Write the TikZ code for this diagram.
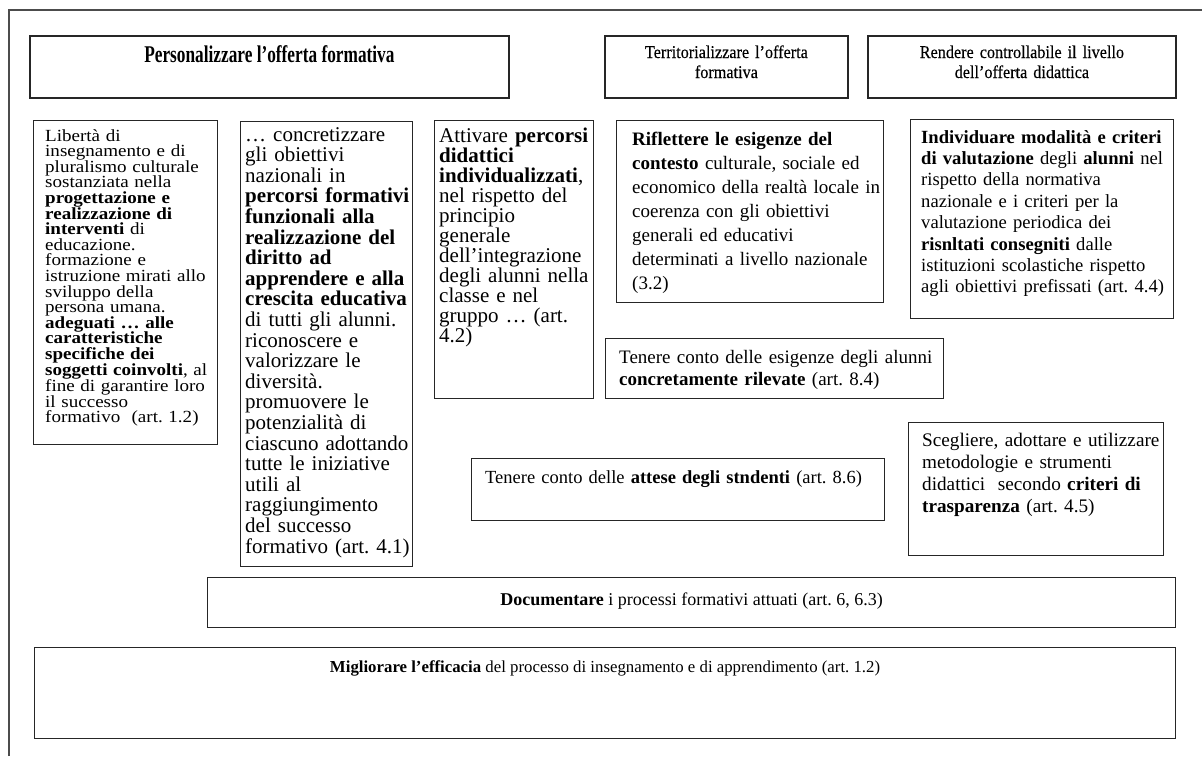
\documentclass[tikz,border=0pt]{standalone}
\usepackage{fontspec}
\setmainfont{Liberation Serif}
\newfontfamily\condfont[FakeStretch=0.72]{Liberation Serif}
\newfontfamily\headfont[FakeStretch=0.9, FakeBold=0.3]{Liberation Serif}
\newfontfamily\widefont[FakeStretch=1.12]{Liberation Serif}
\usetikzlibrary{positioning, calc}
\frenchspacing

\begin{document}
\begin{tikzpicture}[x=1pt, y=-1pt,
    box/.style={draw=black!85, line width=1.1pt, anchor=north west, inner sep=0pt},
    headbox/.style={box, line width=1.8pt},
    txt/.style={anchor=base west, align=left, inner sep=0pt, text width=250pt, text=black},
    headtxt/.style={anchor=base, align=center, inner sep=0pt, text=black}]
  \useasboundingbox (0,0) rectangle (1202,756);

  % outer frame of the page (only top and left edges visible)
  \draw[black!70, line width=1.2pt] (9,756) -- (9,10) -- (1202,10);

  % top row: the three aims
  \node[headbox, minimum width=479pt, minimum height=62pt] (pers) at (29,35) {};
  \node[headtxt, font={\condfont\bfseries\fontsize{24pt}{26pt}\selectfont}] (persT)
    at ([yshift=-27pt]pers.north) {Personalizzare l’offerta formativa};
  \node[headbox, minimum width=243pt, minimum height=62pt] (terr) at (604,35) {};
  \node[headtxt, text width=235pt, font={\headfont\fontsize{18pt}{20pt}\selectfont}] (terrT)
    at ([yshift=-23pt]terr.north) {Territorializzare l’offerta\\formativa};
  \node[headbox, minimum width=308pt, minimum height=62pt] (rend) at (867,35) {};
  \node[headtxt, text width=300pt, font={\headfont\fontsize{18pt}{20pt}\selectfont}] (rendT)
    at ([yshift=-23pt]rend.north) {Rendere controllabile il livello\\dell’offerta didattica};

  % left column boxes
  \node[box, minimum width=184pt, minimum height=324pt] (lib) at (33,120) {};
  \node[txt, font={\widefont\fontsize{17pt}{15.6pt}\selectfont}] (libT)
    at ([xshift=12pt, yshift=-21pt]lib.north west) {Libertà di\\
    insegnamento e di\\
    pluralismo culturale\\
    sostanziata nella\\
    \textbf{progettazione e}\\
    \textbf{realizzazione di}\\
    \textbf{interventi} di\\
    educazione.\\
    formazione e\\
    istruzione mirati allo\\
    sviluppo della\\
    persona umana.\\
    \textbf{adeguati … alle}\\
    \textbf{caratteristiche}\\
    \textbf{specifiche dei}\\
    \textbf{soggetti coinvolti}, al\\
    fine di garantire loro\\
    il successo\\
    formativo~ (art. 1.2)};

  \node[box, minimum width=172pt, minimum height=445pt] (conc) at (240,121) {};
  \node[txt, font={\fontsize{21pt}{20.6pt}\selectfont}] (concT)
    at ([xshift=5pt, yshift=-20pt]conc.north west) {… concretizzare\\
    gli obiettivi\\
    nazionali in\\
    \textbf{percorsi formativi}\\
    \textbf{funzionali alla}\\
    \textbf{realizzazione del}\\
    \textbf{diritto ad}\\
    \textbf{apprendere e alla}\\
    \textbf{crescita educativa}\\
    di tutti gli alunni.\\
    riconoscere e\\
    valorizzare le\\
    diversità.\\
    promuovere le\\
    potenzialità di\\
    ciascuno adottando\\
    tutte le iniziative\\
    utili al\\
    raggiungimento\\
    del successo\\
    formativo (art. 4.1)};

  \node[box, minimum width=159pt, minimum height=278pt] (att) at (434,120) {};
  \node[txt, font={\fontsize{21pt}{20pt}\selectfont}] (attT)
    at ([xshift=5pt, yshift=-22pt]att.north west) {Attivare \textbf{percorsi}\\
    \textbf{didattici}\\
    \textbf{individualizzati},\\
    nel rispetto del\\
    principio\\
    generale\\
    dell’integrazione\\
    degli alunni nella\\
    classe e nel\\
    gruppo … (art.\\
    4.2)};

  % right part
  \node[box, minimum width=267pt, minimum height=182pt] (rifl) at (616,120) {};
  \node[txt, font={\fontsize{19pt}{24pt}\selectfont}] (riflT)
    at ([xshift=16pt, yshift=-25pt]rifl.north west) {\textbf{Riflettere le esigenze del}\\
    \textbf{contesto} culturale, sociale ed\\
    economico della realtà locale in\\
    coerenza con gli obiettivi\\
    generali ed educativi\\
    determinati a livello nazionale\\
    (3.2)};

  \node[box, minimum width=263pt, minimum height=199pt] (indiv) at (910,119) {};
  \node[txt, font={\fontsize{18.6pt}{21.4pt}\selectfont}] (indivT)
    at ([xshift=11pt, yshift=-24pt]indiv.north west) {\textbf{Individuare modalità e criteri}\\
    \textbf{di valutazione} degli \textbf{alunni} nel\\
    rispetto della normativa\\
    nazionale e i criteri per la\\
    valutazione periodica dei\\
    \textbf{risnltati consegniti} dalle\\
    istituzioni scolastiche rispetto\\
    agli obiettivi prefissati (art. 4.4)};

  \node[box, minimum width=338pt, minimum height=60pt] (esig) at (605,338) {};
  \node[txt, text width=330pt, font={\fontsize{19pt}{22pt}\selectfont}] (esigT)
    at ([xshift=14pt, yshift=-25pt]esig.north west) {Tenere conto delle esigenze degli alunni\\
    \textbf{concretamente rilevate} (art. 8.4)};

  \node[box, minimum width=413pt, minimum height=62pt] (attese) at (471,458) {};
  \node[txt, text width=400pt, font={\fontsize{18.5pt}{22pt}\selectfont}] (atteseT)
    at ([xshift=14pt, yshift=-25pt]attese.north west) {Tenere conto delle \textbf{attese degli stndenti} (art. 8.6)};

  \node[box, minimum width=255pt, minimum height=133pt] (scegl) at (908,422) {};
  \node[txt, font={\fontsize{19.2pt}{22pt}\selectfont}] (sceglT)
    at ([xshift=14pt, yshift=-24pt]scegl.north west) {Scegliere, adottare e utilizzare\\
    metodologie e strumenti\\
    didattici~ secondo \textbf{criteri di}\\
    \textbf{trasparenza} (art. 4.5)};

  % bottom rows
  \node[box, minimum width=968pt, minimum height=50pt] (doc) at (207,577) {};
  \node[headtxt, font={\fontsize{18pt}{20pt}\selectfont}] (docT)
    at ([yshift=-28pt]doc.north) {\textbf{Documentare} i processi formativi attuati (art. 6, 6.3)};

  \node[box, minimum width=1141pt, minimum height=91pt] (mig) at (34,647) {};
  \node[headtxt, font={\fontsize{16.8pt}{20pt}\selectfont}] (migT)
    at ([yshift=-25pt]mig.north) {\textbf{Migliorare l’efficacia} del processo di insegnamento e di apprendimento (art. 1.2)};
\end{tikzpicture}
\end{document}
